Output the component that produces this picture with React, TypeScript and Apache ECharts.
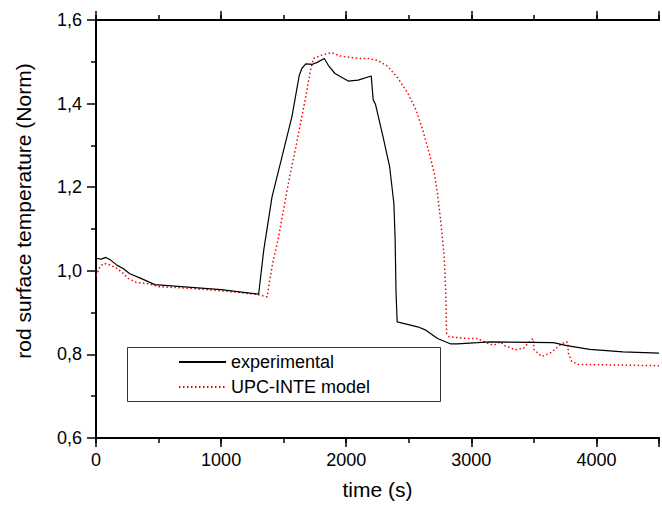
import React, { useEffect, useRef } from "react";
import * as echarts from "echarts";

// time (s) and normalised rod surface temperature, experimental
const expTime = [0, 40, 80, 120, 170, 220, 270, 350, 470, 1000, 1300, 1341, 1407, 1487, 1566, 1625, 1645, 1677, 1730, 1764, 1825, 1860, 1910, 2016, 2095, 2200, 2215, 2235, 2294, 2347, 2381, 2391, 2398, 2407, 2571, 2637, 2730, 2836, 2889, 3048, 3153, 3656, 3762, 3947, 4212, 4500];
const expTemp = [1.030, 1.028, 1.032, 1.025, 1.013, 1.005, 0.993, 0.983, 0.967, 0.955, 0.944, 1.050, 1.177, 1.273, 1.369, 1.468, 1.484, 1.495, 1.494, 1.498, 1.508, 1.490, 1.472, 1.454, 1.456, 1.466, 1.410, 1.397, 1.321, 1.249, 1.161, 1.074, 0.950, 0.878, 0.866, 0.858, 0.838, 0.825, 0.825, 0.828, 0.830, 0.828, 0.821, 0.812, 0.806, 0.803];

// UPC-INTE model
const modelTime = [0, 10, 32, 63, 111, 164, 217, 256, 323, 402, 508, 746, 1008, 1275, 1368, 1381, 1407, 1460, 1513, 1553, 1593, 1632, 1672, 1712, 1738, 1804, 1883, 1950, 2095, 2175, 2254, 2333, 2413, 2492, 2558, 2611, 2664, 2704, 2730, 2757, 2783, 2796, 2802, 2823, 2968, 3048, 3127, 3180, 3233, 3259, 3352, 3418, 3458, 3492, 3502, 3563, 3629, 3709, 3749, 3770, 3776, 3802, 3855, 4500];
const modelTemp = [0.988, 0.994, 1.010, 1.018, 1.014, 1.006, 0.994, 0.982, 0.972, 0.970, 0.962, 0.958, 0.952, 0.944, 0.938, 0.963, 1.010, 1.082, 1.169, 1.233, 1.289, 1.349, 1.409, 1.476, 1.508, 1.516, 1.522, 1.514, 1.508, 1.508, 1.503, 1.489, 1.461, 1.425, 1.385, 1.337, 1.281, 1.233, 1.185, 1.114, 1.034, 0.946, 0.851, 0.842, 0.838, 0.838, 0.827, 0.822, 0.830, 0.822, 0.811, 0.815, 0.828, 0.838, 0.811, 0.795, 0.803, 0.822, 0.830, 0.829, 0.803, 0.783, 0.776, 0.773];

const seriesNames = ["experimental", "UPC-INTE model"];
const xTitle = "time (s)";
const yTitle = "rod surface temperature (Norm)";

const FONT = "'Liberation Sans', Arial, sans-serif";

export default function App() {
  const ref = useRef<HTMLDivElement>(null);
  useEffect(() => {
    if (!ref.current) return;
    const chart = echarts.init(ref.current, null, { renderer: "svg" });
    const axisLine = { show: true, onZero: false, lineStyle: { color: "#000", width: 2 } };
    const xBase = { type: "value", min: 0, max: 4500, splitLine: { show: false }, axisLine };
    chart.setOption({
      animation: false,
      backgroundColor: "#fff",
      textStyle: { fontFamily: FONT },
      grid: { left: 96, top: 20, width: 567, height: 418, containLabel: false },
      legend: {
        data: seriesNames,
        orient: "vertical",
        left: 178,
        top: 353,
        padding: 0,
        itemWidth: 47,
        itemHeight: 18,
        itemGap: 7,
        itemStyle: { color: "rgba(0,0,0,0)", borderWidth: 0, opacity: 0 },
        textStyle: { fontSize: 18, color: "#000", fontFamily: FONT },
      },
      graphic: [
        {
          type: "rect",
          shape: { x: 127.5, y: 347.5, width: 313, height: 54 },
          style: { fill: "none", stroke: "#333", lineWidth: 1 },
          z: 10,
        },
      ],
      xAxis: [
        {
          ...xBase,
          position: "bottom",
          interval: 1000,
          axisTick: { length: 9, lineStyle: { color: "#000", width: 1.5 } },
          axisLabel: {
            margin: 13,
            fontSize: 18,
            color: "#000",
            fontFamily: FONT,
            formatter: (v: number) => (v % 1000 === 0 ? String(v) : ""),
          },
          name: xTitle,
          nameLocation: "middle",
          nameGap: 41,
          nameTextStyle: { fontSize: 21, color: "#000", fontFamily: FONT },
        },
        {
          ...xBase,
          position: "bottom",
          interval: 500,
          axisTick: { length: 5, lineStyle: { color: "#000", width: 1.5 } },
          axisLabel: { show: false },
        },
        {
          ...xBase,
          position: "top",
          interval: 1000,
          axisTick: { length: 9, lineStyle: { color: "#000", width: 1.5 } },
          axisLabel: { show: false },
        },
        {
          ...xBase,
          position: "top",
          interval: 500,
          axisTick: { length: 5, lineStyle: { color: "#000", width: 1.5 } },
          axisLabel: { show: false },
        },
      ],
      yAxis: [
        {
          type: "value",
          position: "left",
          min: 0.6,
          max: 1.6,
          interval: 0.2,
          splitLine: { show: false },
          axisLine,
          axisTick: { length: 9, lineStyle: { color: "#000", width: 1.5 } },
          minorTick: { show: true, splitNumber: 2, length: 5, lineStyle: { color: "#000", width: 1.5 } },
          minorSplitLine: { show: false },
          axisLabel: {
            margin: 14,
            fontSize: 18,
            color: "#000",
            fontFamily: FONT,
            formatter: (v: number) => v.toFixed(1).replace(".", ","),
          },
          name: yTitle,
          nameLocation: "middle",
          nameGap: 62,
          nameTextStyle: { fontSize: 21, color: "#000", fontFamily: FONT, padding: [0, 0, 0, 36] },
        },
      ],
      series: [
        {
          name: seriesNames[0],
          type: "line",
          xAxisIndex: 0,
          yAxisIndex: 0,
          data: expTime.map((t, i) => [t, expTemp[i]]),
          symbol: "none",
          showSymbol: false,
          lineStyle: { color: "#000", width: 1.2, type: "solid" },
          itemStyle: { color: "#000" },
          z: 3,
        },
        {
          name: seriesNames[1],
          type: "line",
          xAxisIndex: 0,
          yAxisIndex: 0,
          data: modelTime.map((t, i) => [t, modelTemp[i]]),
          symbol: "none",
          showSymbol: false,
          lineStyle: { color: "#ff0000", width: 1.5, type: [1.5, 2.5] },
          itemStyle: { color: "#ff0000" },
          z: 2,
        },
      ],
    });
    return () => chart.dispose();
  }, []);
  return (
    <div
      ref={ref}
      style={{ position: "absolute", left: 0, top: 0, width: 662, height: 506, background: "#fff" }}
    />
  );
}
